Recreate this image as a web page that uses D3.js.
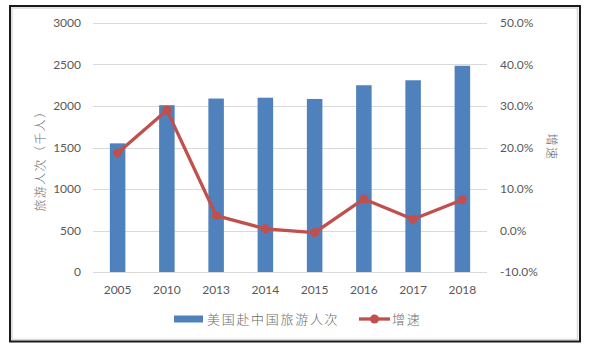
<!DOCTYPE html>
<html><head><meta charset="utf-8">
<script src="https://cdn.jsdelivr.net/npm/d3@7"></script>
<style>
html,body{margin:0;padding:0;background:#fff;}
svg{display:block;}
text{font-family:Lato,"Noto Sans CJK SC",sans-serif;fill:#595959;}
.cjk{font-family:"Noto Sans CJK SC",sans-serif;font-weight:300;fill:#6a6a6a;}
</style></head>
<body>
<script>
const categories = ["2005","2010","2013","2014","2015","2016","2017","2018"];
const visitors = [1550, 2010, 2090, 2100, 2085, 2250, 2310, 2485];
const growth = [18.7, 29.0, 3.6, 0.4, -0.5, 7.6, 2.7, 7.4];
const leftTicks = [0, 500, 1000, 1500, 2000, 2500, 3000];
const rightTicks = [-10, 0, 10, 20, 30, 40, 50];
const barName = "美国赴中国旅游人次";
const lineName = "增速";
const leftTitle = "旅游人次（千人）";
const rightTitle = "增速";

const W = 589, H = 349;
const plot = {x0: 93, x1: 487, y0: 23, y1: 272};
const svg = d3.select("body").append("svg").attr("width", W).attr("height", H);

// frame
svg.append("rect").attr("x", 12).attr("y", 8).attr("width", 565.5).attr("height", 331.5)
  .attr("fill", "none").attr("stroke", "#d9d9d9").attr("stroke-width", 1.5);
svg.append("rect").attr("x", 10).attr("y", 6).attr("width", 570).attr("height", 335.5)
  .attr("fill", "none").attr("stroke", "#1a1a1a").attr("stroke-width", 2);

const x = d3.scaleBand().domain(categories).range([plot.x0, plot.x1]).paddingInner(0.685).paddingOuter(0.3425);
const yL = d3.scaleLinear().domain([0, 3000]).range([plot.y1, plot.y0]);
const yR = d3.scaleLinear().domain([-10, 50]).range([plot.y1, plot.y0]);

// gridlines
svg.append("g").selectAll("line").data(leftTicks).join("line")
  .attr("x1", plot.x0).attr("x2", plot.x1)
  .attr("y1", d => Math.round(yL(d)) + 0.5).attr("y2", d => Math.round(yL(d)) + 0.5)
  .attr("stroke", "#d9d9d9").attr("stroke-width", 1.2);

// left axis
const axL = svg.append("g").attr("transform", `translate(${plot.x0 - 12},0)`)
  .call(d3.axisLeft(yL).tickValues(leftTicks).tickSize(0).tickPadding(0).tickFormat(d3.format("d")));
axL.select(".domain").remove();
axL.selectAll("text").attr("font-size", 12).style("fill", "#595959").style("font-family", "Lato");

// right axis
const axR = svg.append("g").attr("transform", `translate(${plot.x1 + 13},0)`)
  .call(d3.axisRight(yR).tickValues(rightTicks).tickSize(0).tickPadding(0).tickFormat(d => d.toFixed(1) + "%"));
axR.select(".domain").remove();
axR.selectAll("text").attr("font-size", 12).style("fill", "#595959").style("font-family", "Lato");

// bottom axis
const axB = svg.append("g").attr("transform", `translate(0,${plot.y1})`)
  .call(d3.axisBottom(x).tickSize(0).tickPadding(13));
axB.select(".domain").remove();
axB.selectAll("text").attr("font-size", 12).style("fill", "#595959").style("font-family", "Lato");

// bars
svg.append("g").selectAll("rect").data(visitors).join("rect")
  .attr("x", (d, i) => x(categories[i]))
  .attr("width", x.bandwidth())
  .attr("y", d => yL(d))
  .attr("height", d => yL(0) - yL(d))
  .attr("fill", "#4f81bd");

// line
const cx = (d, i) => x(categories[i]) + x.bandwidth() / 2;
svg.append("path").datum(growth)
  .attr("d", d3.line().x(cx).y(d => yR(d)))
  .attr("fill", "none").attr("stroke", "#c0504d").attr("stroke-width", 3.3).attr("stroke-linejoin", "round");
svg.append("g").selectAll("circle").data(growth).join("circle")
  .attr("cx", cx).attr("cy", d => yR(d)).attr("r", 4.5).attr("fill", "#c0504d");

// axis titles
svg.append("text").attr("class", "cjk")
  .attr("transform", "translate(45,158) rotate(-90)")
  .attr("text-anchor", "middle").attr("font-size", 12).attr("letter-spacing", 1.4)
  .text(leftTitle);
svg.append("text").attr("class", "cjk")
  .attr("transform", "translate(547,147) rotate(90)")
  .attr("text-anchor", "middle").attr("font-size", 12).attr("letter-spacing", 1.5)
  .text(rightTitle);

// legend
const lg = svg.append("g");
lg.append("rect").attr("x", 174).attr("y", 315.5).attr("width", 29).attr("height", 7).attr("fill", "#4f81bd");
lg.append("text").attr("class", "cjk").attr("x", 207).attr("y", 319).attr("dy", "0.36em")
  .attr("font-size", 13).attr("letter-spacing", 1.7).text(barName);
lg.append("line").attr("x1", 359).attr("x2", 390).attr("y1", 319).attr("y2", 319)
  .attr("stroke", "#c0504d").attr("stroke-width", 3.3);
lg.append("circle").attr("cx", 374.5).attr("cy", 319).attr("r", 4.5).attr("fill", "#c0504d");
lg.append("text").attr("class", "cjk").attr("x", 392).attr("y", 319).attr("dy", "0.36em")
  .attr("font-size", 13).attr("letter-spacing", 1.7).text(lineName);
</script>
</body></html>
